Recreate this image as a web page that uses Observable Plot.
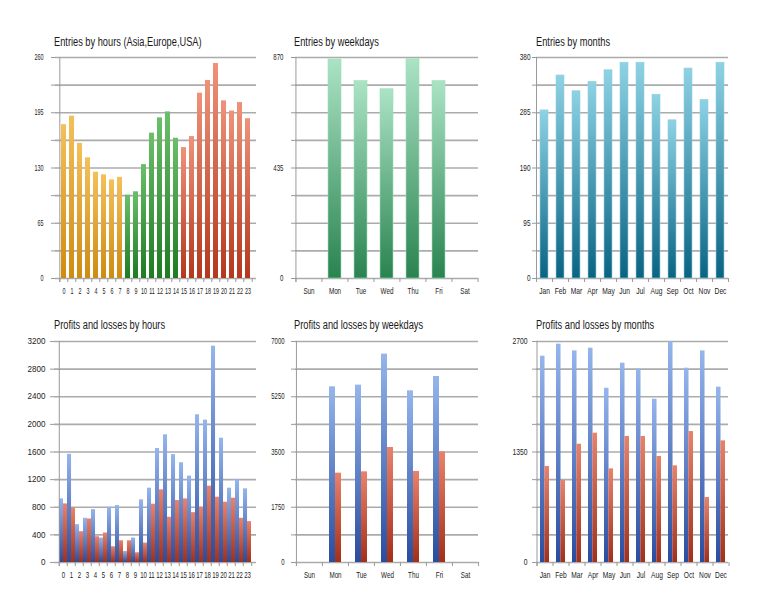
<!DOCTYPE html>
<html><head><meta charset="utf-8">
<script src="https://cdn.jsdelivr.net/npm/d3@7"></script>
<script src="https://cdn.jsdelivr.net/npm/@observablehq/plot@0.6"></script>
<style>
body{margin:0;background:#fff;}
#root{position:relative;width:771px;height:600px;overflow:hidden;font-family:"Liberation Sans",Arial,sans-serif;}
.title{position:absolute;font-size:12.5px;line-height:12.5px;color:#1a1a1a;white-space:nowrap;transform:scaleX(0.74);transform-origin:0 0;}
.panel{position:absolute;}
</style></head><body><div id="root"></div>
<script>
// ---------- data ----------
const hourLabels = ["0","1","2","3","4","5","6","7","8","9","10","11","12","13","14","15","16","17","18","19","20","21","22","23"];
const hourSession = ["Asia","Asia","Asia","Asia","Asia","Asia","Asia","Asia","Europe","Europe","Europe","Europe","Europe","Europe","Europe","USA","USA","USA","USA","USA","USA","USA","USA","USA"];
const entriesByHour = [181,191,159,142,125,122,116,119,98,102,134,171,189,196,165,154,167,218,233,253,209,197,207,188];

const weekdays = ["Sun","Mon","Tue","Wed","Thu","Fri","Sat"];
const entriesByWeekday = [0,862,777,745,863,777,0];

const months = ["Jan","Feb","Mar","Apr","May","Jun","Jul","Aug","Sep","Oct","Nov","Dec"];
const entriesByMonth = [289,349,322,338,358,371,371,316,272,361,307,371];

const profitByHour = [921,1566,548,640,766,354,800,824,160,354,907,1076,1650,1849,1562,1445,1251,2139,2061,3132,1800,1076,1202,1067];
const lossByHour   = [848,790,446,630,373,427,228,315,315,141,281,844,1052,655,897,921,722,800,1105,945,873,931,640,592];

const profitByWeekday = [0,5565,5618,6600,5438,5892,0];
const lossByWeekday   = [0,2830,2872,3643,2883,3506,0];

const profitByMonth = [2520,2667,2585,2618,2129,2435,2361,1995,2695,2374,2585,2142];
const lossByMonth   = [1173,1002,1445,1580,1144,1539,1539,1295,1181,1600,794,1486];

const grid1 = [0,32.5,65,97.5,130,162.5,195,227.5,260], labels1 = [0,65,130,195,260];
const grid2 = [0,108.75,217.5,326.25,435,543.75,652.5,761.25,870], labels2 = [0,435,870];
const grid3 = [0,47.5,95,142.5,190,237.5,285,332.5,380], labels3 = [0,95,190,285,380];
const grid4 = [0,400,800,1200,1600,2000,2400,2800,3200], labels4 = grid4;
const grid5 = [0,875,1750,2625,3500,4375,5250,6125,7000], labels5 = [0,1750,3500,5250,7000];
const grid6 = [0,337.5,675,1012.5,1350,1687.5,2025,2362.5,2700], labels6 = [0,1350,2700];

const titles = ["Entries by hours (Asia,Europe,USA)","Entries by weekdays","Entries by months",
  "Profits and losses by hours","Profits and losses by weekdays","Profits and losses by months"];

// ---------- helpers ----------
const root = document.getElementById("root");
const NS = "http://www.w3.org/2000/svg";
const gradColors = {
  Asia: ["#f4c05a","#d08a10"], Europe: ["#6cbf6a","#1d7b20"], USA: ["#ef9279","#b4371c"],
  week: ["#abe3c5","#2a8350"], month: ["#8ed2e4","#0a6382"],
  profit: ["#95b5ec","#294d9e"], loss: ["#ea826b","#a42f19"]
};
function addDefs(svg, keys, suffix) {
  const defs = document.createElementNS(NS, "defs");
  for (const k of keys) {
    const g = document.createElementNS(NS, "linearGradient");
    g.setAttribute("id", "g-" + k + suffix);
    g.setAttribute("x1", "0"); g.setAttribute("y1", "0"); g.setAttribute("x2", "0"); g.setAttribute("y2", "1");
    [["0", gradColors[k][0]], ["1", gradColors[k][1]]].forEach(([o, c]) => {
      const s = document.createElementNS(NS, "stop");
      s.setAttribute("offset", o); s.setAttribute("stop-color", c);
      g.appendChild(s);
    });
    defs.appendChild(g);
  }
  svg.insertBefore(defs, svg.firstChild);
}
function squeeze(svg, sel, sx) {
  svg.querySelectorAll(sel).forEach(t => {
    const tr = t.getAttribute("transform") || "";
    t.setAttribute("transform", tr + ` scale(${sx},1)`);
  });
}

function panel(cfg) {
  const {left, top, width, height, ml, mr, mt, mb, cats, yMax, grid, labels, pad, ypad, sxY, sxX, barMarks, keys, suffix, color} = cfg;
  const plotW = width - ml - mr, plotH = height - mt - mb;
  const step = plotW / cats.length;
  const bw = step * (1 - pad);
  const axisCol = "#9a9a9a";
  const svg = Plot.plot({
    width, height, marginLeft: ml, marginRight: mr, marginTop: mt, marginBottom: mb,
    style: {fontFamily: "Liberation Sans, Arial, sans-serif", color: "#222", background: "transparent", overflow: "visible"},
    x: {domain: cats, paddingInner: pad, paddingOuter: pad / 2, axis: null},
    y: {domain: [0, yMax], axis: null},
    color,
    marks: [
      Plot.ruleY(grid, {stroke: "#ababab", strokeWidth: 1.6}),
      ...barMarks(bw),
      Plot.axisY({ticks: grid, tickSize: 4, tickPadding: ypad, stroke: axisCol, fill: "#222", fontSize: 8.5, label: null,
                  tickFormat: d => labels.includes(d) ? String(d) : ""}),
      Plot.axisX({tickSize: 0, tickPadding: 9, fill: "#222", fontSize: 9, label: null}),
      Plot.ruleX(cats, {dx: -step / 2, insetTop: plotH, insetBottom: -4, stroke: axisCol}),
      Plot.ruleX([cats[cats.length - 1]], {dx: step / 2, insetTop: plotH, insetBottom: -4, stroke: axisCol}),
      Plot.ruleX([cats[0]], {dx: -step / 2, insetBottom: -4, stroke: axisCol})
    ]
  });
  addDefs(svg, keys, suffix);
  squeeze(svg, 'g[aria-label="y-axis tick label"] text', sxY);
  squeeze(svg, 'g[aria-label="x-axis tick label"] text', sxX);
  const div = document.createElement("div");
  div.className = "panel";
  div.style.left = left + "px"; div.style.top = top + "px";
  div.appendChild(svg);
  root.appendChild(div);
}
function title(text, left, top) {
  const d = document.createElement("div");
  d.className = "title"; d.textContent = text;
  d.style.left = left + "px"; d.style.top = top + "px";
  root.appendChild(d);
}

// ---------- tables ----------
const hourRows = hourLabels.map((h, i) => ({h, session: hourSession[i], v: entriesByHour[i], p: profitByHour[i], l: lossByHour[i]}));
const weekRows = weekdays.map((d, i) => ({d, v: entriesByWeekday[i], p: profitByWeekday[i], l: lossByWeekday[i]}));
const monthRows = months.map((m, i) => ({m, v: entriesByMonth[i], p: profitByMonth[i], l: lossByMonth[i]}));

const TOP = 40, BOT = 324, H = 260, MT = 17, MB = 22;

// Entries by hours
panel({left: 0, top: TOP, width: 262, height: H, ml: 55, mr: 6, mt: MT, mb: MB, cats: hourLabels, yMax: 260,
  grid: grid1, labels: labels1, pad: 0.4, ypad: 8, sxY: 0.64, sxX: 0.6, keys: ["Asia","Europe","USA"], suffix: "1",
  color: {domain: ["Asia","Europe","USA"], range: ["url(#g-Asia1)","url(#g-Europe1)","url(#g-USA1)"]},
  barMarks: () => [Plot.barY(hourRows, {x: "h", y: "v", fill: "session"})]});

// Entries by weekdays
panel({left: 262, top: TOP, width: 224, height: H, ml: 33, mr: 8, mt: MT, mb: MB, cats: weekdays, yMax: 870,
  grid: grid2, labels: labels2, pad: 0.5, ypad: 8, sxY: 0.72, sxX: 0.7, keys: ["week"], suffix: "2",
  barMarks: () => [Plot.barY(weekRows, {x: "d", y: "v", fill: "url(#g-week2)", stroke: "#9fdcba", strokeWidth: 0.6})]});

// Entries by months
panel({left: 486, top: TOP, width: 250, height: H, ml: 50, mr: 8, mt: MT, mb: MB, cats: months, yMax: 380,
  grid: grid3, labels: labels3, pad: 0.5, ypad: 2, sxY: 0.76, sxX: 0.74, keys: ["month"], suffix: "3",
  barMarks: () => [Plot.barY(monthRows, {x: "m", y: "v", fill: "url(#g-month3)", stroke: "#8fd0e0", strokeWidth: 0.6})]});

const pl = (rows, key, sfx) => (bw) => [
  Plot.barY(rows, {x: key, y: "p", fill: `url(#g-profit${sfx})`, insetRight: bw / 2}),
  Plot.barY(rows, {x: key, y: "l", fill: `url(#g-loss${sfx})`, insetLeft: bw / 2})
];

// Profits and losses by hours
panel({left: 0, top: BOT, width: 262, height: H, ml: 54, mr: 6, mt: MT, mb: MB, cats: hourLabels, yMax: 3200,
  grid: grid4, labels: labels4, pad: 0.06, ypad: 5, sxY: 0.95, sxX: 0.67, keys: ["profit","loss"], suffix: "4",
  barMarks: pl(hourRows, "h", "4")});

// Profits and losses by weekdays
panel({left: 262, top: BOT, width: 224, height: H, ml: 33, mr: 8, mt: MT, mb: MB, cats: weekdays, yMax: 7000,
  grid: grid5, labels: labels5, pad: 0.54, ypad: 7, sxY: 0.7, sxX: 0.7, keys: ["profit","loss"], suffix: "5",
  barMarks: pl(weekRows, "d", "5")});

// Profits and losses by months
panel({left: 486, top: BOT, width: 250, height: H, ml: 50, mr: 8, mt: MT, mb: MB, cats: months, yMax: 2700,
  grid: grid6, labels: labels6, pad: 0.44, ypad: 5, sxY: 0.8, sxX: 0.74, keys: ["profit","loss"], suffix: "6",
  barMarks: pl(monthRows, "m", "6")});

title(titles[0], 54, 36); title(titles[1], 294, 36); title(titles[2], 536, 36);
title(titles[3], 54, 319); title(titles[4], 294, 319); title(titles[5], 536, 319);
</script></body></html>
